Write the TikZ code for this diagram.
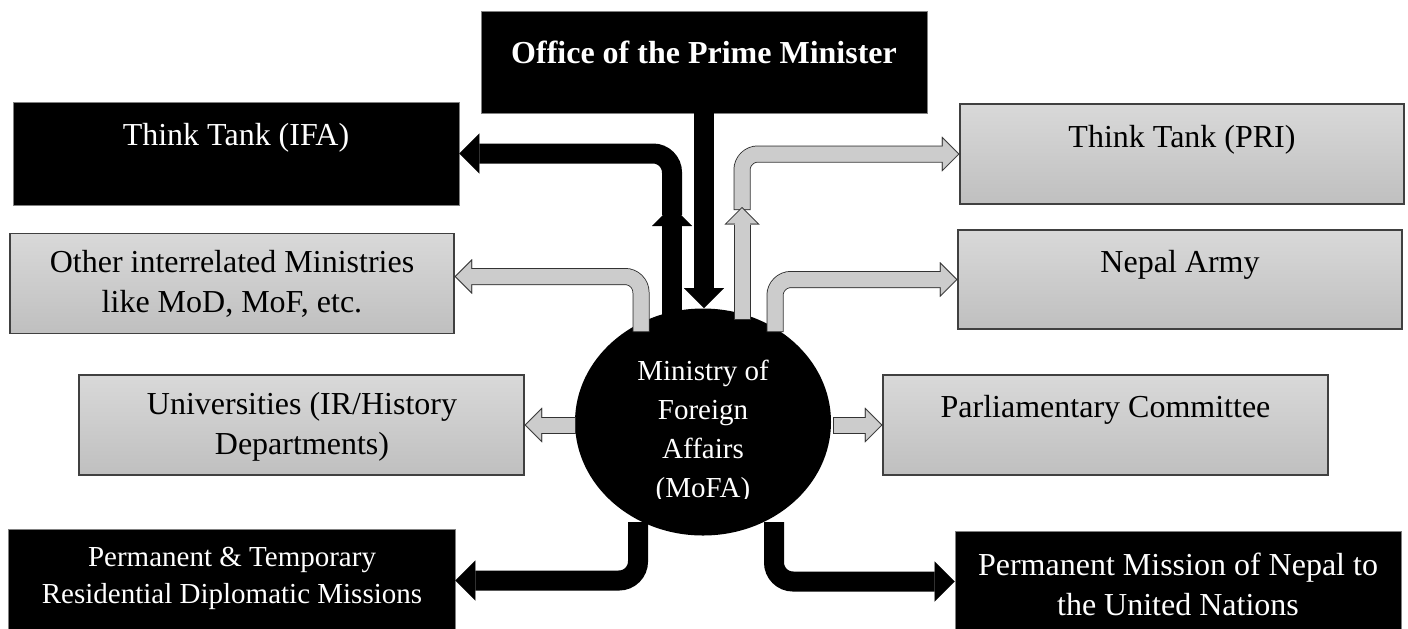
\documentclass[tikz,border=0pt]{standalone}
\usepackage{fontspec}
\setmainfont{Liberation Serif}
\usetikzlibrary{arrows.meta,shapes.geometric}
\tikzset{
  blackbox/.style={draw=gray, fill=black, minimum width=223pt, minimum height=51.5pt, inner sep=0pt},
  graybox/.style={draw=black!75, line width=0.6pt, top color=gray!30, bottom color=gray!50, minimum width=222pt, minimum height=50pt, inner sep=0pt},
  wtxt/.style={text=white, align=center, font=\fontsize{16}{20}\selectfont},
  btxt/.style={text=black, align=center, font=\fontsize{16}{20}\selectfont},
  blkarrow/.style={draw=black, line width=10pt, rounded corners=9.5pt, -{Triangle[length=10pt,width=20pt,line width=0.01pt]}},
  grayarrow/.style={rounded corners=8pt,
    preaction={draw=black!80, line width=8.5pt, -{Triangle[length=8.75pt,width=17.5pt,line width=0.01pt]}, shorten >=0pt, shorten <=0pt},
    draw=gray!40, line width=7.5pt, -{Triangle[length=7.54pt,width=15.08pt,line width=0.01pt]}, shorten >=0.71pt, shorten <=0.5pt,
    postaction={draw=gray!40, line width=7.5pt, -, shorten >=8pt, shorten <=0.5pt}}
}
\begin{document}
\begin{tikzpicture}[x=0.5pt,y=-0.5pt]
  \path[use as bounding box, fill=white] (0,0) rectangle (1408,628);
  \node[blackbox, minimum height=51pt] (pm) at (704,62) {};
  \node[blackbox] (ifa) at (236,153.5) {};
  \node[graybox] (other) at (232,283.5) {};
  \node[graybox, minimum width=222.5pt] (univ) at (301.5,425) {};
  \node[blackbox, minimum width=223.5pt] (ptm) at (231.5,580.5) {};
  \node[graybox] (pri) at (1182,154) {};
  \node[graybox, minimum height=49.5pt] (army) at (1180,279.5) {};
  \node[graybox, minimum width=222.5pt] (parl) at (1105.5,425) {};
  \node[blackbox, minimum height=50.5pt] (pmun) at (1178,581.5) {};
  \node[ellipse, fill=black, minimum width=128pt, minimum height=113.5pt, inner sep=0pt] (mofa) at (703,422) {};

  \node[wtxt, font=\fontsize{16}{20}\selectfont\bfseries] (pm-t) at (704,52) {Office of the Prime Minister};
  \node[wtxt] (ifa-t) at (236,138) {Think Tank (IFA)};
  \node[btxt] (other-t) at (232,284) {Other interrelated Ministries\\like MoD, MoF, etc.};
  \node[btxt] (univ-t) at (302,427) {Universities (IR/History\\Departments)};
  \node[wtxt, font=\fontsize{14.5}{18.5}\selectfont] (ptm-t) at (232,578.5) {Permanent \& Temporary\\Residential Diplomatic Missions};
  \node[btxt] (pri-t) at (1182,140) {Think Tank (PRI)};
  \node[btxt] (army-t) at (1180,265) {Nepal Army};
  \node[btxt] (parl-t) at (1105.5,410) {Parliamentary Committee};
  \node[wtxt] (pmun-t) at (1178,584) {Permanent Mission of Nepal to\\the United Nations};

  \path
    (672,322) coordinate (ifa-in)
    (672,206) coordinate (ifa-up)
    (672,215) coordinate (ifa-mid)
    (641,332) coordinate (other-in)
    (742,320) coordinate (pri-in)
    (742,207) coordinate (pri-up)
    (742,210) coordinate (pri-mid)
    (775,332) coordinate (army-in)
    (576,425) coordinate (univ-in)
    (833,425) coordinate (parl-in)
    (638,522) coordinate (ptm-in)
    (774,522) coordinate (pmun-in);

  \draw[blkarrow] (pm.south) -- (pm.south |- mofa.north);
  \draw[blkarrow] (ifa-mid) |- (ifa.east);
  \draw[blkarrow] (ifa-in) -- (ifa-up);
  \draw[grayarrow] (other-in) |- ([yshift=3.5pt]other.east);
  \draw[grayarrow] (pri-mid) |- (pri.west);
  \draw[grayarrow] (pri-in) -- (pri-up);
  \draw[grayarrow] (army-in) |- (army.west);
  \draw[grayarrow] (univ-in) -- (univ.east);
  \draw[grayarrow] (parl-in) -- (parl.west);
  \draw[blkarrow] (ptm-in) |- (ptm.east);
  \draw[blkarrow] (pmun-in) |- (pmun.west);

  \begin{scope}
    \clip (560,300) rectangle (850,498);
    \node[wtxt, font=\fontsize{14.5}{19.5}\selectfont] (mofa-t) at (703,432) {Ministry of\\Foreign\\Affairs\\(MoFA)};
  \end{scope}
\end{tikzpicture}
\end{document}
